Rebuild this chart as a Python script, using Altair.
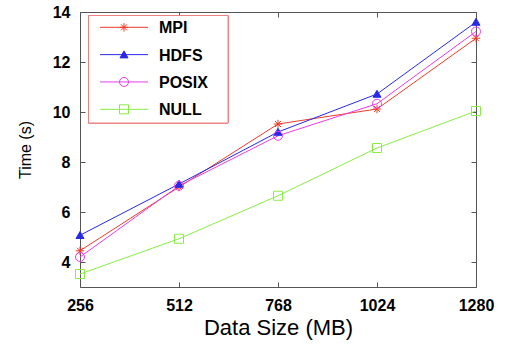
import altair as alt
import pandas as pd

# ---- data ----
sizes = [256, 512, 768, 1024, 1280]
series_names = ["MPI", "HDFS", "POSIX", "NULL"]
mpi = [4.45, 7.00, 9.52, 10.12, 12.95]
hdfs = [5.07, 7.12, 9.20, 10.72, 13.60]
posix = [4.20, 7.05, 9.05, 10.33, 13.22]
null = [3.52, 4.93, 6.65, 8.56, 10.04]
y_ticks = [4, 6, 8, 10, 12, 14]

colors = ["#f03c28", "#2828e8", "#e83ce8", "#88ee44"]
fills = ["transparent", "#2828e8", "transparent", "transparent"]

# marker shapes (unit paths)
STAR = "M-0.85,0H0.85M0,-0.85V0.85M-0.6,-0.6L0.6,0.6M-0.6,0.6L0.6,-0.6"
TRI = "M0,-0.75L0.8,0.65L-0.8,0.65Z"
CIRC = "M-0.9,0A0.9,0.9,0,1,1,0.9,0A0.9,0.9,0,1,1,-0.9,0Z"
SQ = "M-0.9,-0.9H0.9V0.9H-0.9Z"
marker_shapes = [STAR, TRI, CIRC, SQ]

rows = []
for name, vals in zip(series_names, [mpi, hdfs, posix, null]):
    for s, v in zip(sizes, vals):
        rows.append({"series": name, "size": s, "time": v})
df = pd.DataFrame(rows)
legend_df = pd.DataFrame({"series": series_names})

W, H = 396, 275
FONT = "Liberation Sans"
TICK_COLOR = "#555555"

xscale = alt.Scale(domain=[256, 1280], nice=False, zero=False)
yscale = alt.Scale(domain=[3, 14], nice=False, zero=False)

x_main = alt.X(
    "size:Q", scale=xscale,
    axis=alt.Axis(values=sizes, format="d", title="Data Size (MB)", ticks=False, domain=False,
                  grid=False, labelFlush=False, labelFont=FONT, labelFontSize=16,
                  labelFontWeight="bold", labelColor="black", labelPadding=10, titleFont=FONT,
                  titleFontSize=22, titleFontWeight="normal", titleColor="black", titlePadding=4))
y_main = alt.Y(
    "time:Q", scale=yscale,
    axis=alt.Axis(values=y_ticks, format="d", title="Time (s)", ticks=False, domain=False,
                  grid=False, labelFlush=False, labelFont=FONT, labelFontSize=16,
                  labelFontWeight="bold", labelColor="black", labelPadding=10, titleFont=FONT,
                  titleFontSize=16, titleFontWeight="normal", titleColor="black", titlePadding=19))

x_none = alt.X("size:Q", scale=xscale, axis=None)
y_none = alt.Y("time:Q", scale=yscale, axis=None)

color_enc = alt.Color("series:N", scale=alt.Scale(domain=series_names, range=colors), legend=None)
shape_enc = alt.Shape("series:N", scale=alt.Scale(domain=series_names, range=marker_shapes), legend=None)
fill_enc = alt.Fill("series:N", scale=alt.Scale(domain=series_names, range=fills), legend=None)

lines = alt.Chart(df).mark_line(strokeWidth=1).encode(
    x=x_main, y=y_main, color=color_enc, detail="series:N")

points = alt.Chart(df).mark_point(size=100, filled=False, opacity=1, strokeWidth=1).encode(
    x=x_none, y=y_none, color=color_enc, shape=shape_enc, fill=fill_enc)

# ---- legend box drawn inside the plot (top-left) ----
row_y = alt.Y("series:N", sort=series_names, axis=None,
              scale=alt.Scale(type="point", domain=series_names, range=[15.3, 97.3], padding=0))

legend_box = alt.Chart(legend_df).mark_rect(
    fill="white", stroke="#f08080", strokeWidth=1).encode(
    x=alt.value(8.5), x2=alt.value(148), y=alt.value(3.5), y2=alt.value(111))

legend_lines = alt.Chart(legend_df).mark_rule(strokeWidth=1).encode(
    x=alt.value(20), x2=alt.value(68), y=row_y, color=color_enc)

legend_marks = alt.Chart(legend_df).mark_point(size=100, filled=False, opacity=1, strokeWidth=1).encode(
    x=alt.value(44), y=row_y, color=color_enc, shape=shape_enc, fill=fill_enc)

legend_text = alt.Chart(legend_df).mark_text(
    align="left", baseline="middle", font=FONT, fontSize=16, fontWeight="bold", color="black", dy=1).encode(
    x=alt.value(79), y=row_y, text="series:N")


def tick_axis(orient, offset, values):
    return alt.Axis(orient=orient, offset=offset, values=values, labels=False, domain=False,
                    grid=False, ticks=True, tickSize=5, tickColor=TICK_COLOR, tickWidth=1, title="")

# inward ticks: bottom & left
ticks_a = alt.Chart(df).transform_filter("false").mark_point(opacity=0).encode(
    x=alt.X("size:Q", scale=xscale, axis=tick_axis("top", -H, sizes)),
    y=alt.Y("time:Q", scale=yscale, axis=tick_axis("right", -W, y_ticks)),
)
# inward ticks: top & right
ticks_b = alt.Chart(df).transform_filter("false").mark_point(opacity=0).encode(
    x=alt.X("size:Q", scale=xscale, axis=tick_axis("bottom", -H, sizes)),
    y=alt.Y("time:Q", scale=yscale, axis=tick_axis("left", -W, y_ticks)),
)

chart = alt.layer(
    lines, points, ticks_a, ticks_b, legend_box, legend_lines, legend_marks, legend_text
).resolve_scale(
    y="independent"
).resolve_axis(
    x="independent", y="independent"
).properties(
    width=W, height=H,
    padding={"left": 80, "top": 12, "right": 29, "bottom": 57},
    autosize=alt.AutoSizeParams(type="none"),
).configure(font=FONT).configure_view(stroke="#555555", strokeWidth=1)

chart.save("out.html", embed_options={"renderer": "svg", "actions": False})
